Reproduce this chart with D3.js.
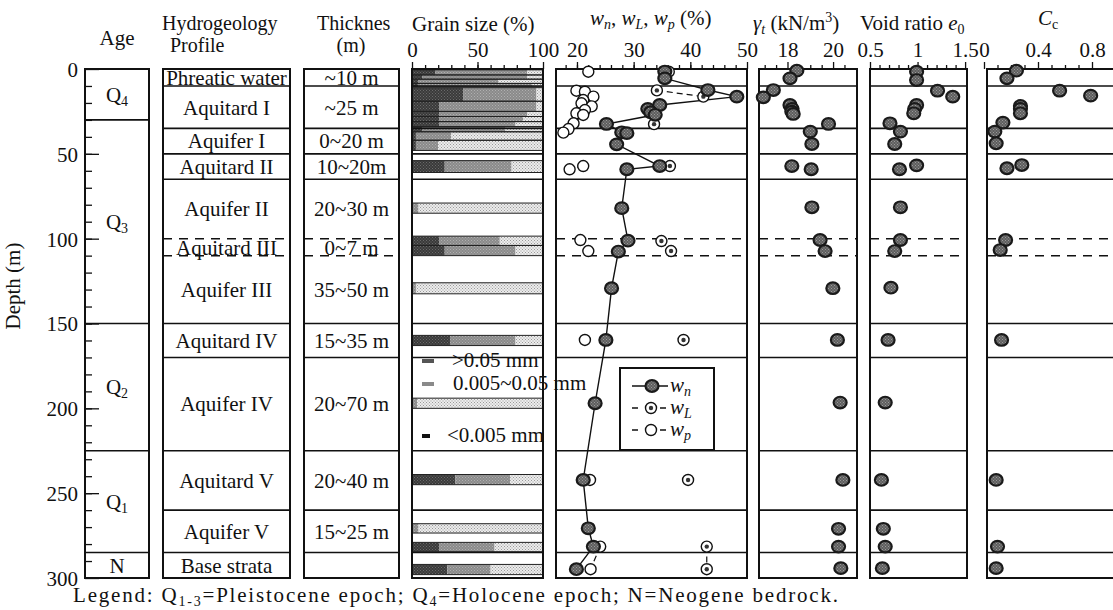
<!DOCTYPE html>
<html lang="en">
<head>
<meta charset="UTF-8">
<title>Hydrogeology profile and soil properties</title>
<script src="https://d3js.org/d3.v7.min.js"></script>
<style>
  body { margin: 0; background: #fff; }
  svg text { font-family: "Liberation Serif", "Times New Roman", serif; fill: #111; font-size: 21px; }
  .tick text { font-size: 21px; }
  .tick line { stroke: #111; stroke-width: 1.3; }
</style>
</head>
<body>
<svg id="chart" width="1113" height="610"></svg>
<script>
// ---------- data ----------
const depthTicks = [0, 50, 100, 150, 200, 250, 300];

// age units (m)
const ageNames = ["Q4", "Q3", "Q2", "Q1", "N"];
const ageBounds = [0, 30, 150, 225, 285, 300];

// hydrogeology profile
const layerNames = ["Phreatic water", "Aquitard I", "Aquifer I", "Aquitard II", "Aquifer II", "Aquitard III",
  "Aquifer III", "Aquitard IV", "Aquifer IV", "Aquitard V", "Aquifer V", "Base strata"];
const layerBounds = [0, 10, 35, 50, 65, 100, 110, 150, 170, 225, 260, 285, 300];
const thicknessLabels = ["~10 m", "~25 m", "0~20 m", "10~20m", "20~30 m", "0~7 m",
  "35~50 m", "15~35 m", "20~70 m", "20~40 m", "15~25 m", ""];
const dashedBounds = [100, 110];

// grain size (%), one bar per sampled interval
const grainTop =    [0.5, 3.5, 6, 8.5, 11, 19, 25, 28, 31, 34, 37, 42, 54, 79, 98.5, 104, 126, 157, 194, 239, 268, 279, 292];
const grainBottom = [3.5, 6, 8.5, 10.5, 19, 25, 28, 31, 34, 37, 42, 48, 61, 85, 104, 110, 132.5, 163, 200, 245, 273.5, 284.5, 298];
const clayPct = [18, 8, 5, 5, 39, 21, 21, 21, 21, 8, 3, 3, 25, 0, 21, 25, 0, 29, 0, 33, 0, 21, 27];   // <0.005 mm
const siltPct = [70, 80, 61, 87, 56, 74, 67, 64, 58, 63, 27, 17, 51, 5, 46, 54, 3, 50, 4, 42, 5, 42, 33]; // 0.005~0.05 mm
const sandPct = [12, 12, 34, 8, 5, 5, 12, 15, 21, 29, 70, 80, 24, 95, 33, 21, 97, 21, 96, 25, 95, 37, 40]; // >0.05 mm
const grainLegend = [">0.05 mm", "0.005~0.05 mm", "<0.005 mm"];

// water content (%)
const wnDepth = [1.5, 5.5, 12.4, 16.3, 21.2, 23.5, 25.5, 27, 32.4, 37.3, 37.8, 44.4, 57.2, 59.1, 82, 101.2, 107.6, 129.2, 159.7, 197, 242.2, 270.7, 281.5, 294.8];
const wnValue = [35.5, 35.5, 43.1, 48.2, 34.6, 32.5, 33.0, 33.8, 25.2, 27.9, 28.8, 27.0, 34.6, 28.8, 27.9, 29.0, 27.3, 26.1, 25.1, 23.2, 21.1, 22.0, 22.9, 19.9];
const wLDepth = [1.6, null, 12.6, 16.3, null, 32.5, null, 57.2, null, 101.4, 107.3, null, 159.7, null, 242.2, null, 281.5, 294.8];
const wLValue = [36.2, null, 34.1, 42.3, null, 33.6, null, 36.4, null, 34.9, 36.6, null, 38.8, null, 39.6, null, 42.9, 42.9];
const wpDepth = [1.6, null, 12.8, 13.4, 16.3, 18.3, 20.2, 22.0, 24.2, 26.1, 27.1, 32.0, 35.4, 37.5, null, 57.2, 59.1, null, 100.8, 107.3, null, 159.7, null, 242.2, null, 281.5, 294.8];
const wpValue = [22.0, null, 19.9, 21.4, 22.9, 21.1, 20.8, 22.6, 21.4, 19.9, 21.1, 19.4, 18.5, 17.6, null, 21.1, 18.7, null, 20.6, 22.0, null, 21.4, null, 22.3, null, 24.1, 22.4];

// unit weight (kN/m3)
const gammaDepth = [1, 5.5, 12.4, 16.7, 21.2, 23.5, 25.1, 26.5, 32.4, 36.9, 44.2, 57.2, 59.1, 81.5, 100.8, 107.3, 129.2, 159.7, 196.6, 242.2, 271, 281.5, 294.2];
const gammaValue = [18.41, 18.11, 17.38, 16.94, 18.11, 18.2, 18.19, 18.25, 19.8, 19.0, 19.07, 18.19, 19.04, 19.07, 19.43, 19.65, 19.99, 20.19, 20.31, 20.43, 20.24, 20.24, 20.34];

// void ratio
const e0Depth = [1.6, 6.5, 12.8, 16.3, 21.2, 23.5, 26.1, 32, 36.9, 44.2, 56.8, 59.1, 81.5, 100.8, 107.3, 128.9, 159.7, 196.6, 242.2, 271, 281.5, 294.2];
const e0Value = [0.99, 0.99, 1.21, 1.37, 0.99, 0.97, 0.96, 0.71, 0.82, 0.76, 0.99, 0.81, 0.82, 0.82, 0.76, 0.72, 0.69, 0.66, 0.62, 0.64, 0.66, 0.63];

// compression index
const ccDepth = [1, 5.5, 12.8, 15.7, 21.8, 23.5, 26.1, 31.6, 36.9, 43.8, 56.6, 58.5, 100.8, 106.7, 159.7, 242.2, 281.5, 294.2];
const ccValue = [0.24, 0.17, 0.56, 0.79, 0.27, 0.27, 0.27, 0.14, 0.08, 0.09, 0.28, 0.17, 0.16, 0.12, 0.13, 0.09, 0.10, 0.09];

// ---------- layout ----------
const svg = d3.select("#chart");
const panels = {
  age: [85, 149], profile: [163, 290], thick: [304, 399], grain: [412, 543],
  w: [556, 747], gamma: [759, 857], e0: [870, 967], cc: [987, 1125]
};

const y = d3.scaleLinear().domain([0, 300]).range([69, 578]);
const xGrain = d3.scaleLinear().domain([0, 100]).range(panels.grain);
const xW = d3.scaleLinear().domain([16.3, 50]).range(panels.w);
const xGamma = d3.scaleLinear().domain([16.75, 21.05]).range(panels.gamma);
const xE0 = d3.scaleLinear().domain([0.5, 1.52]).range(panels.e0);
const xCc = d3.scaleLinear().domain([0, 0.8]).range([984, 1092]);

// patterns for the grain size fills and markers
const defs = svg.append("defs");
function dotPattern(id, bg, dot, size) {
  const p = defs.append("pattern").attr("id", id).attr("width", size).attr("height", size)
    .attr("patternUnits", "userSpaceOnUse");
  p.append("rect").attr("width", size).attr("height", size).attr("fill", bg);
  p.append("rect").attr("x", 0).attr("y", 0).attr("width", 1).attr("height", 1).attr("fill", dot);
  p.append("rect").attr("x", size / 2).attr("y", size / 2).attr("width", 1).attr("height", 1).attr("fill", dot);
}
dotPattern("sand", "#ececec", "#9a9a9a", 3);
dotPattern("silt", "#8a8a8a", "#b0b0b0", 3);
dotPattern("clay", "#3a3a3a", "#6a6a6a", 3);
dotPattern("mark", "#5e5e5e", "#9a9a9a", 3);

// text helper with subscript / superscript
function richText(parent, x, yy, parts, anchor) {
  const t = parent.append("text").attr("x", x).attr("y", yy).attr("text-anchor", anchor || "start");
  parts.forEach(p => {
    const s = t.append("tspan").text(p.t);
    if (p.i) s.attr("font-style", "italic");
    if (p.sub) s.attr("font-size", 14).attr("baseline-shift", "-4");
    if (p.sup) s.attr("font-size", 14).attr("baseline-shift", "8");
  });
  return t;
}

// ---------- headings ----------
svg.append("text").attr("x", 117).attr("y", 45).attr("text-anchor", "middle").text("Age");
svg.append("text").attr("x", 162).attr("y", 30).style("font-size", "20px").text("Hydrogeology");
svg.append("text").attr("x", 170).attr("y", 52).style("font-size", "20px").text("Profile");
svg.append("text").attr("x", 317).attr("y", 30).style("font-size", "20px").text("Thicknes");
svg.append("text").attr("x", 351).attr("y", 52).style("font-size", "20px").attr("text-anchor", "middle").text("(m)");
svg.append("text").attr("x", 412).attr("y", 31).text("Grain size (%)");
richText(svg, 590, 25, [{t: "w", i: 1}, {t: "n", i: 1, sub: 1}, {t: ", "}, {t: "w", i: 1}, {t: "L", i: 1, sub: 1},
  {t: ", "}, {t: "w", i: 1}, {t: "p", i: 1, sub: 1}, {t: " (%)"}]);
richText(svg, 753, 30, [{t: "γ", i: 1}, {t: "t", i: 1, sub: 1}, {t: " (kN/m"}, {t: "3", sup: 1}, {t: ")"}]);
richText(svg, 860, 30, [{t: "Void ratio "}, {t: "e", i: 1}, {t: "0", sub: 1}]);
richText(svg, 1038, 25, [{t: "C", i: 1}, {t: "c", sub: 1}]);

svg.append("text")
  .attr("transform", `translate(20,${286}) rotate(-90)`)
  .attr("text-anchor", "middle")
  .text("Depth (m)");

// ---------- depth axis ----------
function cleanAxis(g) {
  g.attr("font-size", null).attr("font-family", null);
  g.select(".domain").remove();
}
svg.append("g").attr("transform", `translate(${panels.age[0]},0)`)
  .call(d3.axisLeft(y).tickValues(d3.range(10, 300, 10)).tickSize(-7).tickFormat(""))
  .call(cleanAxis);
svg.append("g").attr("transform", `translate(${panels.age[0]},0)`)
  .call(d3.axisLeft(y).tickValues(depthTicks).tickSize(-14).tickPadding(7))
  .call(cleanAxis)
  .selectAll("text").attr("dy", "0.35em");

// ---------- top axes ----------
function topAxis(scale, major, minor, fmt) {
  svg.append("g").attr("transform", `translate(0,${y(0)})`)
    .call(d3.axisTop(scale).tickValues(minor).tickSize(4).tickFormat(""))
    .call(cleanAxis);
  svg.append("g").attr("transform", `translate(0,${y(0)})`)
    .call(d3.axisTop(scale).tickValues(major).tickSize(7).tickPadding(5).tickFormat(fmt))
    .call(cleanAxis);
}
topAxis(xGrain, [0, 50, 100], d3.range(10, 100, 10), d => d);
topAxis(xW, [20, 30, 40, 50], d3.range(18, 50, 2), d => d);
topAxis(xGamma, [18, 20], [17, 17.5, 18.5, 19, 19.5, 20.5], d => d);
topAxis(xE0, [0.5, 1, 1.5], d3.range(0.6, 1.5, 0.1).filter(d => Math.abs(d - 1) > 0.01), d => d);
topAxis(xCc, [0, 0.4, 0.8], [0.1, 0.2, 0.3, 0.5, 0.6, 0.7], d => d);

// ---------- grain size bars ----------
const grainRows = grainTop.map((t, i) => ({
  top: t, bottom: grainBottom[i], clay: clayPct[i], silt: siltPct[i], sand: sandPct[i]
}));
const stacked = d3.stack().keys(["clay", "silt", "sand"])(grainRows);
svg.append("g").selectAll("g").data(stacked).join("g")
  .attr("fill", d => `url(#${d.key})`)
  .selectAll("rect").data(d => d).join("rect")
  .attr("x", d => xGrain(d[0]))
  .attr("width", d => xGrain(d[1]) - xGrain(d[0]))
  .attr("y", d => y(d.data.top))
  .attr("height", d => y(d.data.bottom) - y(d.data.top));
svg.append("g").selectAll("rect").data(grainRows).join("rect")
  .attr("x", xGrain(0)).attr("width", xGrain(100) - xGrain(0))
  .attr("y", d => y(d.top)).attr("height", d => y(d.bottom) - y(d.top))
  .attr("fill", "none").attr("stroke", "#222").attr("stroke-width", 1);

// ---------- layer lines ----------
function hLines(range, bounds, dashedOk) {
  bounds.slice(1, -1).forEach(b => {
    const dashed = dashedOk && dashedBounds.includes(b);
    svg.append("line")
      .attr("x1", range[0]).attr("x2", Math.min(range[1], 1113))
      .attr("y1", y(b)).attr("y2", y(b))
      .attr("stroke", "#111")
      .attr("stroke-width", dashed ? 1.5 : 1.6)
      .attr("stroke-dasharray", dashed ? "9,7" : null);
  });
}
hLines(panels.age, ageBounds, false);
["profile", "thick", "grain", "w", "gamma", "e0", "cc"].forEach(k => {
  if (k === "grain") hLines(panels[k], layerBounds.filter(b => !dashedBounds.includes(b)), false);
  else hLines(panels[k], layerBounds, true);
});

// panel frames
Object.values(panels).forEach(p => {
  svg.append("rect")
    .attr("x", p[0]).attr("y", y(0))
    .attr("width", p[1] - p[0]).attr("height", y(300) - y(0))
    .attr("fill", "none").attr("stroke", "#111").attr("stroke-width", 2);
});

// ---------- age / profile / thickness labels ----------
ageNames.forEach((n, i) => {
  const mid = (ageBounds[i] + ageBounds[i + 1]) / 2;
  const parts = n.length > 1 ? [{t: n[0]}, {t: n.slice(1), sub: 1}] : [{t: n}];
  richText(svg, (panels.age[0] + panels.age[1]) / 2, y(mid), parts, "middle").attr("dy", "0.35em");
});
layerNames.forEach((n, i) => {
  const mid = (layerBounds[i] + layerBounds[i + 1]) / 2;
  svg.append("text").attr("x", (panels.profile[0] + panels.profile[1]) / 2).attr("y", y(mid))
    .attr("dy", "0.35em").attr("text-anchor", "middle").text(n);
  svg.append("text").attr("x", (panels.thick[0] + panels.thick[1]) / 2).attr("y", y(mid))
    .attr("dy", "0.35em").attr("text-anchor", "middle").text(thicknessLabels[i]);
});

// grain size legend
const swatchFill = ["#555", "#8a8a8a", "#111"];
const legendY = [367, 390, 442];
const legendX = [452, 453, 447];
grainLegend.forEach((l, i) => {
  svg.append("rect").attr("x", 422).attr("y", legendY[i] - 8).attr("width", i === 2 ? 8 : 12).attr("height", 4)
    .attr("fill", swatchFill[i]);
  svg.append("text").attr("x", legendX[i]).attr("y", legendY[i]).text(l);
});

// ---------- water content ----------
const wn = wnDepth.map((d, i) => ({d: d, v: wnValue[i]}));
const wL = wLDepth.map((d, i) => ({d: d, v: wLValue[i]}));
const wp = wpDepth.map((d, i) => ({d: d, v: wpValue[i]}));
const line = d3.line().defined(p => p.v != null).x(p => xW(p.v)).y(p => y(p.d));

svg.append("path").attr("d", line(wL)).attr("fill", "none").attr("stroke", "#111")
  .attr("stroke-width", 1.2).attr("stroke-dasharray", "6,4");
svg.append("path").attr("d", line(wp)).attr("fill", "none").attr("stroke", "#111")
  .attr("stroke-width", 1.2).attr("stroke-dasharray", "6,4");
svg.append("path").attr("d", line(wn)).attr("fill", "none").attr("stroke", "#111").attr("stroke-width", 1.4);

function openMarker(g, cx, cy, dot) {
  g.append("circle").attr("cx", cx).attr("cy", cy).attr("r", 5.5)
    .attr("fill", "#fff").attr("stroke", "#111").attr("stroke-width", 1.4);
  if (dot) g.append("circle").attr("cx", cx).attr("cy", cy).attr("r", 2.2).attr("fill", "#333");
}
function filledMarker(g, cx, cy) {
  g.append("ellipse").attr("cx", cx).attr("cy", cy).attr("rx", 6.5).attr("ry", 5.8)
    .attr("fill", "url(#mark)").attr("stroke", "#1a1a1a").attr("stroke-width", 2.2);
}
const mk = svg.append("g");
wp.filter(p => p.v != null).forEach(p => openMarker(mk, xW(p.v), y(p.d), false));
wL.filter(p => p.v != null).forEach(p => openMarker(mk, xW(p.v), y(p.d), true));
wn.forEach(p => filledMarker(mk, xW(p.v), y(p.d)));

// legend box for water content
const lg = svg.append("g");
lg.append("rect").attr("x", 620).attr("y", 368).attr("width", 94).attr("height", 82)
  .attr("fill", "#fff").attr("stroke", "#111").attr("stroke-width", 2);
[["n", 386], ["L", 408], ["p", 430]].forEach(([s, yy], i) => {
  lg.append("line").attr("x1", 632).attr("x2", 668).attr("y1", yy).attr("y2", yy)
    .attr("stroke", "#111").attr("stroke-width", 1.3).attr("stroke-dasharray", i === 0 ? null : "6,8");
  if (i === 0) filledMarker(lg, 652, yy);
  else openMarker(lg, 651, yy, i === 1);
  richText(lg, 670, yy + 6, [{t: "w", i: 1}, {t: s, i: 1, sub: 1}]);
});

// ---------- unit weight, void ratio, Cc ----------
gammaDepth.forEach((d, i) => filledMarker(mk, xGamma(gammaValue[i]), y(d)));
e0Depth.forEach((d, i) => filledMarker(mk, xE0(e0Value[i]), y(d)));
ccDepth.forEach((d, i) => filledMarker(mk, xCc(ccValue[i]), y(d)));

// bottom legend
richText(svg, 73, 602, [{t: "Legend: Q"}, {t: "1-3", sub: 1}, {t: "=Pleistocene epoch; Q"}, {t: "4", sub: 1},
  {t: "=Holocene epoch; N=Neogene bedrock."}]).style("letter-spacing", "1.8px");
</script>
</body>
</html>
